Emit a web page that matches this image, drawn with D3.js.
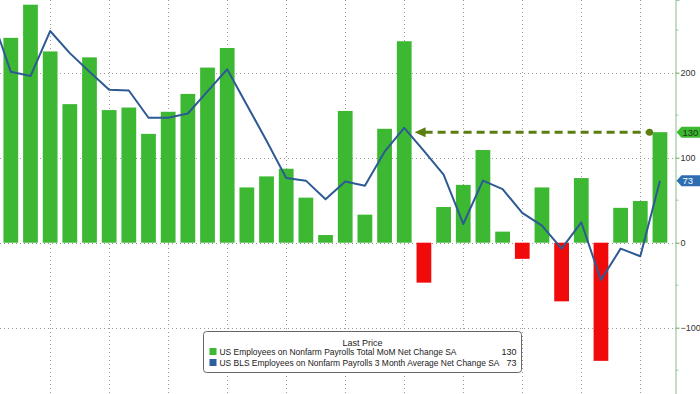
<!DOCTYPE html>
<html>
<head>
<meta charset="utf-8">
<script src="https://cdn.jsdelivr.net/npm/d3@7"></script>
<style>
  body { margin: 0; background: #fff; }
  svg { display: block; font-family: "Liberation Sans", Arial, sans-serif; }
</style>
</head>
<body>
<svg width="700" height="394"></svg>
<script>
// months shown as bars (Apr 2023 .. Jan 2026), plus the month before for the line
var prevMonth = 'Mar 2023';
var months = ['Apr 2023', 'May 2023', 'Jun 2023', 'Jul 2023', 'Aug 2023', 'Sep 2023', 'Oct 2023', 'Nov 2023', 'Dec 2023',
  'Jan 2024', 'Feb 2024', 'Mar 2024', 'Apr 2024', 'May 2024', 'Jun 2024', 'Jul 2024', 'Aug 2024', 'Sep 2024',
  'Oct 2024', 'Nov 2024', 'Dec 2024', 'Jan 2025', 'Feb 2025', 'Mar 2025', 'Apr 2025', 'May 2025', 'Jun 2025',
  'Jul 2025', 'Aug 2025', 'Sep 2025', 'Oct 2025', 'Nov 2025', 'Dec 2025', 'Jan 2026'];
// total MoM net change (thousands)
var momChange = [241, 280, 225, 163, 218, 156, 159, 128, 154, 175, 206, 229, 65, 78, 87, 53, 9, 155,
  33, 134, 237, -47, 42, 68, 109, 13, -19, 65, -69, 76, -139, 41, 49, 130];
// 3 month average net change (first value belongs to prevMonth)
var avgChange = [268, 201, 196, 249, 223, 201, 180, 179, 147, 147, 152, 178, 204, 162, 120, 76, 73, 51, 72,
  67, 107, 135, 108, 80, 22, 73, 63, 35, 20, -7, 24, -44, -7, -16, 73];
var gridMonths = ['Jun 2023', 'Sep 2023', 'Dec 2023', 'Mar 2024', 'Jun 2024', 'Sep 2024', 'Dec 2024',
  'Mar 2025', 'Jun 2025', 'Sep 2025', 'Dec 2025'];
var majorTicks = [-100, 0, 100, 200];
var minorTicks = [-150, -50, 50, 150, 250];
var seriesNames = ['US Employees on Nonfarm Payrolls Total MoM Net Change SA',
  'US BLS Employees on Nonfarm Payrolls 3 Month Average Net Change SA'];
var lastValues = [130, 73];

var width = 700, height = 394;
var axisX = 675.5;
var green = '#3cb832', red = '#f00a0a', blue = '#2e5a93', arrowColor = '#5b7e10';

var svg = d3.select('svg');

var x = d3.scaleBand()
  .domain([prevMonth].concat(months))
  .range([-18.7, 669.8])
  .paddingInner(0.25)
  .paddingOuter(0.125);
var bw = x.bandwidth();
var cx = function (m) { return x(m) + bw / 2; };

var y = d3.scaleLinear().domain([-178, 285.5]).range([height, 0]);

// gridlines
var grid = svg.append('g').attr('stroke', '#9a9a9a').attr('stroke-width', 1).attr('stroke-dasharray', '1,3');
grid.selectAll('.hg').data(majorTicks).enter().append('line')
  .attr('x1', 0).attr('x2', axisX)
  .attr('y1', function (d) { return Math.round(y(d)) + 0.5; })
  .attr('y2', function (d) { return Math.round(y(d)) + 0.5; });
grid.selectAll('.vg').data(gridMonths).enter().append('line')
  .attr('x1', function (d) { return Math.round(cx(d)) + 0.5; })
  .attr('x2', function (d) { return Math.round(cx(d)) + 0.5; })
  .attr('y1', 0).attr('y2', height);

// bars
svg.append('g').selectAll('rect')
  .data(months.map(function (m, i) { return { month: m, value: momChange[i] }; }))
  .enter()
  .append('rect')
  .attr('x', function (d) { return x(d.month); })
  .attr('width', bw)
  .attr('y', function (d) { return y(Math.max(0, d.value)); })
  .attr('height', function (d) { return Math.abs(y(d.value) - y(0)); })
  .attr('fill', function (d) { return d.value < 0 ? red : green; });

// 3 month average line
svg.append('clipPath').attr('id', 'plot').append('rect')
  .attr('x', 0).attr('y', 0).attr('width', axisX).attr('height', height);
var line = d3.line()
  .x(function (d) { return cx(d.month); })
  .y(function (d) { return y(d.value); });
svg.append('path')
  .datum([prevMonth].concat(months).map(function (m, i) { return { month: m, value: avgChange[i] }; }))
  .attr('clip-path', 'url(#plot)')
  .attr('fill', 'none')
  .attr('stroke', blue)
  .attr('stroke-width', 2)
  .attr('stroke-linejoin', 'round')
  .attr('d', line);

// dashed arrow back to the last bar of the same size
var lastV = momChange[momChange.length - 1];
var ay = y(lastV);
var tipX = x(months[20]) + bw + 3;
var endX = x(months[33]) - 3;
svg.append('line')
  .attr('x1', tipX + 10).attr('x2', endX)
  .attr('y1', ay).attr('y2', ay)
  .attr('stroke', arrowColor).attr('stroke-width', 3).attr('stroke-dasharray', '8,5');
svg.append('path')
  .attr('d', 'M' + tipX + ',' + ay + 'L' + (tipX + 11) + ',' + (ay - 5) + 'L' + (tipX + 11) + ',' + (ay + 5) + 'Z')
  .attr('fill', arrowColor);
svg.append('circle').attr('cx', endX).attr('cy', ay).attr('r', 3.5).attr('fill', arrowColor);

// right axis
var axisG = svg.append('g').attr('transform', 'translate(' + axisX + ',0)')
  .call(d3.axisRight(y).tickValues(majorTicks).tickSize(4).tickPadding(1).tickFormat(d3.format('d')));
axisG.select('.domain').attr('stroke', '#9cc99c').attr('stroke-width', 1.2);
axisG.selectAll('.tick line').attr('stroke', '#6aaa5a');
axisG.selectAll('.tick text').attr('fill', '#333').attr('font-size', 9)
  .attr('font-family', '"Liberation Sans", Arial, sans-serif');
axisG.selectAll('.minor').data(minorTicks).enter().append('line')
  .attr('x1', 0).attr('x2', 3)
  .attr('y1', function (d) { return y(d); }).attr('y2', function (d) { return y(d); })
  .attr('stroke', '#9cc99c');

// last value tags
var tags = [{ v: lastValues[0], fill: green, text: '#1e3a10' }, { v: lastValues[1], fill: '#2f6db3', text: '#fff' }];
tags.forEach(function (t) {
  var ty = y(t.v);
  svg.append('path')
    .attr('d', 'M' + (axisX + 1) + ',' + ty + 'L' + (axisX + 6) + ',' + (ty - 5.5) + 'L700,' + (ty - 5.5) +
      'L700,' + (ty + 5.5) + 'L' + (axisX + 6) + ',' + (ty + 5.5) + 'Z')
    .attr('fill', t.fill);
  svg.append('text').attr('x', axisX + 7).attr('y', ty + 3.4)
    .attr('font-size', 9.5).attr('fill', t.text).text(t.v);
});

// legend
var lg = svg.append('g').attr('transform', 'translate(203.5,331.5)');
lg.append('rect').attr('width', 318).attr('height', 41).attr('rx', 3)
  .attr('fill', '#fff').attr('stroke', '#666');
lg.append('text').attr('x', 159).attr('y', 14).attr('text-anchor', 'middle')
  .attr('font-size', 9).attr('fill', '#222').text('Last Price');
var rowLen = [237, 280];
[green, '#2f5f9e'].forEach(function (c, i) {
  var ry = 16.5 + i * 11;
  lg.append('rect').attr('x', 6).attr('y', ry).attr('width', 7).attr('height', 7).attr('fill', c);
  lg.append('text').attr('x', 16).attr('y', ry + 7).attr('font-size', 8.6).attr('fill', '#222')
    .attr('textLength', rowLen[i]).attr('lengthAdjust', 'spacingAndGlyphs').text(seriesNames[i]);
  lg.append('text').attr('x', 313).attr('y', ry + 7).attr('text-anchor', 'end')
    .attr('font-size', 9).attr('fill', '#222').text(lastValues[i]);
});
</script>
</body>
</html>
